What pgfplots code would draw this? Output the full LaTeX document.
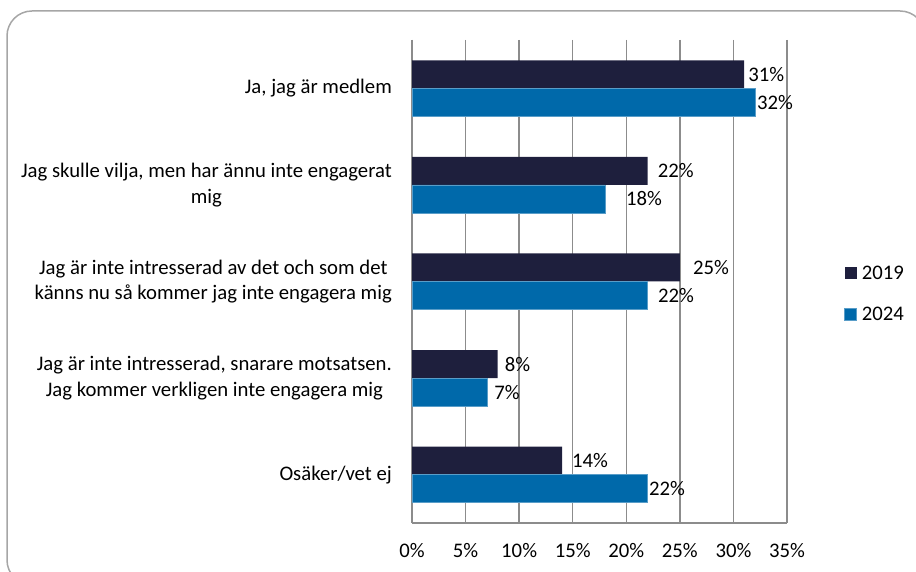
\documentclass[border=0pt]{standalone}
\usepackage{fontspec}
\setmainfont{Carlito}
\usepackage{pgfplots}
\pgfplotsset{compat=1.18}
\usepackage{pgfplotstable}

\definecolor{navy19}{HTML}{1E1F3D}
\definecolor{blue24}{HTML}{0069AA}
\definecolor{gridgray}{HTML}{8C8C8C}
\definecolor{framegray}{HTML}{A6A6A6}

\pgfplotstableread{
y v19 o19 v24 o24
0 31 4 32 2
1 22 10 18 21
2 25 13 22 10
3 8 7 7 7
4 14 10 22 1
}\data

\newcommand{\lblfont}{\fontsize{20.8}{25.5}\selectfont}

\begin{document}
\begin{tikzpicture}[x=1bp,y=1bp]
\useasboundingbox (0,0) rectangle (916,572);
\draw[framegray, line width=1.5bp, rounded corners=25bp] (7,-13) rectangle (925,561);
\begin{axis}[
  at={(412bp,49bp)}, anchor=south west,
  scale only axis, width=375bp, height=483bp,
  xbar, bar width=28bp,
  xmin=0, xmax=35, ymin=-0.5, ymax=4.5, y dir=reverse,
  xtick={0,5,...,35},
  xticklabel={\pgfmathprintnumber{\tick}\%},
  /pgf/number format/assume math mode=true,
  ytick={0,1,2,3,4},
  yticklabels={{Ja, jag är medlem},{Jag skulle vilja, men har ännu inte engagerat\\mig},{Jag är inte intresserad av det och som det\\känns nu så kommer jag inte engagera mig},{Jag är inte intresserad, snarare motsatsen.\\Jag kommer verkligen inte engagera mig},{Osäker/vet ej}},
  yticklabel style={align=center, inner sep=0pt, xshift=-20bp, font=\lblfont},
  xticklabel style={inner sep=0pt, yshift=-20bp, font=\lblfont},
  xmajorgrids,
  major grid style={gridgray, line width=1.5bp},
  axis x line*=bottom, axis y line*=left,
  axis line style={gridgray, line width=1.5bp, -},
  major tick length=0pt,
  point meta=x,
  nodes near coords={\pgfmathprintnumber{\pgfplotspointmeta}\%},
  every node near coord/.append style={font=\lblfont, anchor=west, inner sep=0pt, text=black},
  legend style={at={(1.152,0.475)}, anchor=west, draw=none, fill=none, font=\lblfont, row sep=22bp, inner sep=0pt,
    nodes={inner xsep=5bp}},
  legend cell align=left,
  legend image code/.code={\fill[#1] (0bp,-6bp) rectangle (12bp,6bp);},
]
\addplot[fill=navy19, draw=none, bar shift=14bp,
  visualization depends on={\thisrow{o19} \as \off},
  every node near coord/.append style={xshift=\off bp}]
  table[x=v19, y=y] {\data};
\addlegendentry{2019}
\addplot[fill=blue24, draw=blue24!65!white, line width=0.6bp, bar shift=-14bp,
  visualization depends on={\thisrow{o24} \as \off},
  every node near coord/.append style={xshift=\off bp}]
  table[x=v24, y=y] {\data};
\addlegendentry{2024}
\end{axis}
\end{tikzpicture}
\end{document}
